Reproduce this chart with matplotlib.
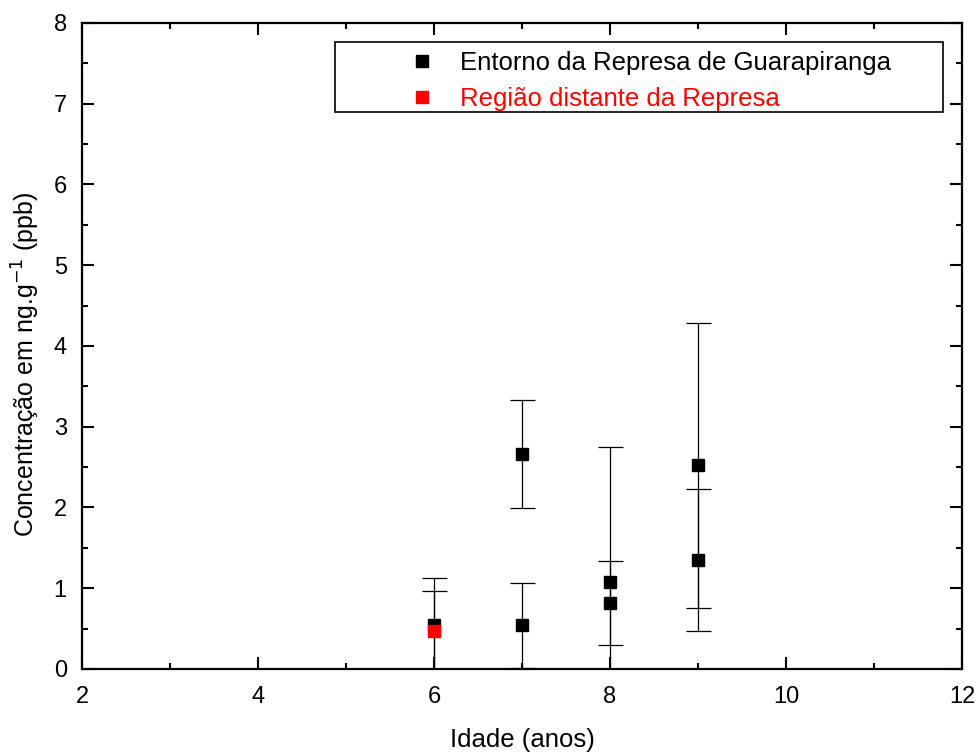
import matplotlib
matplotlib.use('Agg')
import matplotlib.pyplot as plt
from matplotlib.patches import Rectangle
from matplotlib.ticker import MultipleLocator

plt.rcParams['font.family'] = ['Liberation Sans', 'DejaVu Sans']

# Entorno da Represa de Guarapiranga (media e desvio)
idade_entorno = [6, 7, 7, 8, 8, 9, 9]
conc_entorno = [0.55, 2.66, 0.54, 1.08, 0.82, 2.52, 1.35]
erro_entorno = [0.58, 0.67, 0.53, 1.67, 0.52, 1.76, 0.88]

# Regiao distante da represa
idade_distante = [6]
conc_distante = [0.47]
erro_distante = [0.50]

fig = plt.figure(figsize=(9.79, 7.53), dpi=100)
ax = fig.add_axes([0.0838, 0.1116, 0.8988, 0.8579])

ax.errorbar(idade_entorno, conc_entorno, yerr=erro_entorno, fmt='none',
            ecolor='black', elinewidth=0.9, capsize=9, capthick=0.9, zorder=2)
ax.errorbar(idade_distante, conc_distante, yerr=erro_distante, fmt='none',
            ecolor='black', elinewidth=0.9, capsize=9, capthick=0.9, zorder=2)
ax.plot(idade_entorno, conc_entorno, 's', color='black', markersize=8.5,
        label='Entorno da Represa de Guarapiranga', zorder=3)
ax.plot(idade_distante, conc_distante, 's', color='red', markersize=8.5,
        label='Região distante da Represa', zorder=3)

ax.set_xlim(2, 12)
ax.set_ylim(0, 8)
ax.xaxis.set_major_locator(MultipleLocator(2))
ax.xaxis.set_minor_locator(MultipleLocator(1))
ax.yaxis.set_major_locator(MultipleLocator(1))
ax.yaxis.set_minor_locator(MultipleLocator(0.5))
ax.tick_params(which='both', direction='in', top=True, right=True,
               width=1.5, labelsize=17)
ax.tick_params(which='major', length=8.5)
ax.tick_params(which='minor', length=4.5)
ax.tick_params(axis='x', which='major', pad=12)
ax.tick_params(axis='y', which='major', pad=11)
for s in ax.spines.values():
    s.set_linewidth(1.6)

ax.set_xlabel('Idade (anos)', fontsize=18.5, labelpad=15)
ax.set_ylabel('Concentração em ng.g$^{-1}$ (ppb)', fontsize=18)
ax.yaxis.set_label_coords(-0.0455, 0.472)

# caixa da legenda
ax.add_patch(Rectangle((0.2875, 0.862), 0.6905, 0.1085, transform=ax.transAxes,
                       facecolor='white', edgecolor='black', lw=1.2, zorder=4,
                       clip_on=False))
leg = ax.legend(loc='upper left', bbox_to_anchor=(0.363, 0.956), frameon=False,
                borderaxespad=0, borderpad=0, handlelength=1.6, handletextpad=0.68,
                labelspacing=0.47, numpoints=1, fontsize=18.5)
leg.set_zorder(5)
for txt, cor in zip(leg.get_texts(), ['black', 'red']):
    txt.set_color(cor)

fig.savefig('out.png', dpi=100)
